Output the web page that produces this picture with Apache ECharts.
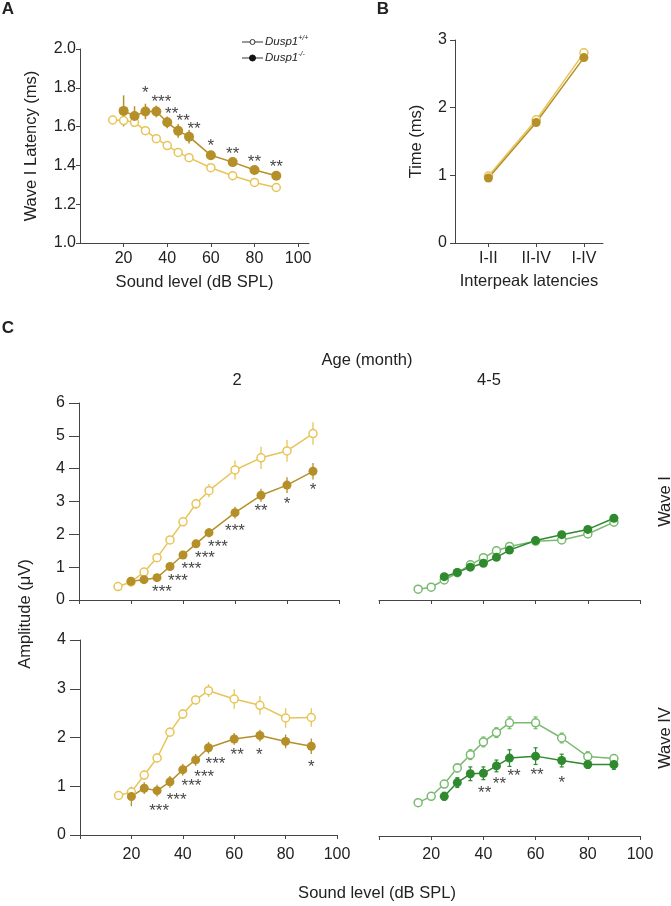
<!DOCTYPE html>
<html>
<head>
<meta charset="utf-8">
<script src="https://cdn.jsdelivr.net/npm/echarts@6/dist/echarts.min.js"></script>
<style>
html,body{margin:0;padding:0;background:#fff;}
#c{width:671px;height:906px;}
</style>
</head>
<body>
<div id="c"></div>
<script>
// ---------------- DATA ----------------
// Panel A: Wave I latency (ms)
const xA_wt = [15, 20, 25, 30, 35, 40, 45, 50, 60, 70, 80, 90];
const yA_wt = [1.634, 1.631, 1.622, 1.579, 1.538, 1.502, 1.467, 1.440, 1.388, 1.347, 1.312, 1.286];
const eA_wt = [0.01, 0.015, 0.015, 0.012, 0.01, 0.01, 0.01, 0.01, 0.01, 0.01, 0.01, 0.01];
const xA_ko = [20, 25, 30, 35, 40, 45, 50, 60, 70, 80, 90];
const yA_ko = [1.681, 1.655, 1.678, 1.678, 1.622, 1.578, 1.548, 1.452, 1.417, 1.376, 1.347];
const eA_ko = [0.08, 0.05, 0.04, 0.03, 0.03, 0.035, 0.035, 0.02, 0.02, 0.02, 0.02];
const sA_ko = ['', '', '*', '***', '**', '**', '**', '*', '**', '**', '**'];

// Panel B: interpeak latencies
const catB = ['I-II', 'II-IV', 'I-IV'];
const yB_wt = [0.99, 1.82, 2.81];
const eB_wt = [0.03, 0.04, 0.05];
const yB_ko = [0.96, 1.78, 2.74];
const eB_ko = [0.03, 0.04, 0.04];

// Panel C: amplitude (uV)
const xC_wt = [15, 20, 25, 30, 35, 40, 45, 50, 60, 70, 80, 90];
const xC_ko2 = [20, 25, 30, 35, 40, 45, 50, 60, 70, 80, 90];
const xC_ko45 = [25, 30, 35, 40, 45, 50, 60, 70, 80, 90];
// Wave I, 2 months
const yC1_wt = [0.41, 0.55, 0.85, 1.29, 1.83, 2.38, 2.93, 3.33, 3.96, 4.33, 4.54, 5.07];
const eC1_wt = [0.03, 0.05, 0.08, 0.1, 0.1, 0.12, 0.15, 0.2, 0.29, 0.34, 0.33, 0.34];
const yC1_ko = [0.57, 0.62, 0.68, 1.02, 1.37, 1.71, 2.05, 2.66, 3.19, 3.50, 3.92];
const eC1_ko = [0.08, 0.08, 0.08, 0.1, 0.1, 0.12, 0.14, 0.18, 0.2, 0.24, 0.25];
const sC1_ko = ['', '', '***', '***', '***', '***', '***', '***', '**', '*', '*'];
// Wave I, 4-5 months
const yC2_wt = [0.33, 0.39, 0.61, 0.83, 1.07, 1.29, 1.50, 1.63, 1.79, 1.83, 2.01, 2.37];
const eC2_wt = [0.03, 0.03, 0.05, 0.05, 0.06, 0.06, 0.06, 0.06, 0.07, 0.07, 0.07, 0.08];
const yC2_ko = [0.71, 0.84, 1.00, 1.12, 1.30, 1.52, 1.81, 1.99, 2.15, 2.49];
const eC2_ko = [0.07, 0.05, 0.05, 0.06, 0.06, 0.06, 0.08, 0.07, 0.08, 0.1];
// Wave IV, 2 months
const yC3_wt = [0.81, 0.88, 1.23, 1.58, 2.11, 2.48, 2.77, 2.96, 2.79, 2.66, 2.40, 2.41];
const eC3_wt = [0.04, 0.1, 0.1, 0.1, 0.1, 0.1, 0.1, 0.13, 0.2, 0.19, 0.2, 0.19];
const yC3_ko = [0.79, 0.96, 0.91, 1.09, 1.34, 1.54, 1.79, 1.97, 2.04, 1.92, 1.82];
const eC3_ko = [0.2, 0.12, 0.12, 0.12, 0.12, 0.12, 0.12, 0.12, 0.12, 0.14, 0.16];
const sC3_ko = ['', '', '***', '***', '***', '***', '***', '**', '*', '', '*'];
// Wave IV, 4-5 months
const yC4_wt = [0.68, 0.81, 1.06, 1.39, 1.66, 1.92, 2.11, 2.31, 2.31, 2.00, 1.62, 1.58];
const eC4_wt = [0.05, 0.05, 0.07, 0.08, 0.1, 0.1, 0.1, 0.12, 0.12, 0.1, 0.1, 0.08];
const yC4_ko = [0.81, 1.09, 1.27, 1.28, 1.43, 1.59, 1.63, 1.54, 1.46, 1.46];
const eC4_ko = [0.08, 0.1, 0.14, 0.13, 0.12, 0.17, 0.17, 0.13, 0.08, 0.1];
const sC4_ko = ['', '', '', '**', '**', '**', '**', '*', '', ''];

// ---------------- LAYOUT / STYLE ----------------
const starOffA  = [[0,0],[0,0],[0,-22],[5,-13],[4.5,-12],[5,-12.6],[5,-11],[0,-12.6],[0,-11.5],[0,-11],[0,-11.4]];
const starOffC1 = [[0,0],[0,0],[5,11],[8,11],[8.5,10.7],[9,11],[9,11],[0,15],[0,13],[0,16],[0,16]];
const starOffC3 = [[0,0],[0,0],[2,17],[6.7,15],[8.7,13],[8.6,13.5],[7,13.4],[3,13],[-0.7,16.6],[0,0],[0,18]];
const starOffC4 = [[0,0],[0,0],[0,0],[1.3,17],[3,15],[4.5,15],[1.4,16],[0,19],[0,0],[0,0]];

const FONT = "'Liberation Sans', Arial, Helvetica, sans-serif";
const TXT = '#222';
const AX = '#444';
const GOLD_D = '#b58f28';
const GOLD_L = '#e8c458';
const GREEN_D = '#2f8a2f';
const GREEN_L = '#78bb6e';
const LBL = 16;
const NAME = 16.5;
const STAR = 17;

const chart = echarts.init(document.getElementById('c'), null, {renderer: 'canvas'});

const grids = [
  {left: 80, top: 49, width: 229, height: 194},   // A
  {left: 455, top: 40, width: 148, height: 203},  // B
  {left: 79, top: 403, width: 260, height: 197},  // C1
  {left: 379, top: 403, width: 261, height: 197}, // C2
  {left: 80, top: 640, width: 257, height: 195},  // C3
  {left: 379, top: 640, width: 261, height: 196}  // C4
].map(g => Object.assign({outerBoundsMode: 'none', containLabel: false}, g));

function axLine(show) { return {show: show, lineStyle: {color: AX, width: 1}}; }
const lblStyle = {color: TXT, fontSize: LBL, fontFamily: FONT};
const nameStyle = {color: TXT, fontSize: NAME, fontFamily: FONT};

const xAxes = [
  { gridIndex: 0, type: 'value', min: 0, max: 105, axisLine: axLine(true),
    axisTick: {show: true, length: 4, lineStyle: {color: AX}, customValues: [20,40,60,80,100]},
    axisLabel: Object.assign({margin: 8, customValues: [20,40,60,80,100]}, lblStyle),
    splitLine: {show: false}, name: 'Sound level (dB SPL)', nameLocation: 'middle', nameGap: 31, nameTextStyle: nameStyle },
  { gridIndex: 1, type: 'value', min: 0.3, max: 3.4, axisLine: axLine(true),
    axisTick: {show: true, length: 4, lineStyle: {color: AX}, customValues: [1,2,3]},
    axisLabel: Object.assign({margin: 8, customValues: [1,2,3], formatter: v => catB[Math.round(v) - 1] || ''}, lblStyle),
    splitLine: {show: false}, name: 'Interpeak latencies', nameLocation: 'middle', nameGap: 30, nameTextStyle: nameStyle },
  { gridIndex: 2, type: 'value', min: 0, max: 100, interval: 20, axisLine: axLine(true),
    axisTick: {show: true, length: 4, lineStyle: {color: AX}}, axisLabel: {show: false}, splitLine: {show: false} },
  { gridIndex: 3, type: 'value', min: 0, max: 100, interval: 20, axisLine: axLine(true),
    axisTick: {show: true, length: 4, lineStyle: {color: AX}}, axisLabel: {show: false}, splitLine: {show: false} },
  { gridIndex: 4, type: 'value', min: 0, max: 100, interval: 20, axisLine: axLine(true),
    axisTick: {show: true, length: 4, lineStyle: {color: AX}},
    axisLabel: Object.assign({margin: 12, formatter: v => v === 0 ? '' : String(v)}, lblStyle), splitLine: {show: false} },
  { gridIndex: 5, type: 'value', min: 0, max: 100, interval: 20, axisLine: axLine(true),
    axisTick: {show: true, length: 4, lineStyle: {color: AX}},
    axisLabel: Object.assign({margin: 11, formatter: v => v === 0 ? '' : String(v)}, lblStyle), splitLine: {show: false} }
];

const yAxes = [
  { gridIndex: 0, type: 'value', min: 1, max: 2, interval: 0.2, axisLine: axLine(true),
    axisTick: {show: true, length: 4, lineStyle: {color: AX}},
    axisLabel: Object.assign({margin: 4, formatter: v => v.toFixed(1)}, lblStyle), splitLine: {show: false},
    name: 'Wave I Latency (ms)', nameLocation: 'middle', nameGap: 40, nameTextStyle: nameStyle },
  { gridIndex: 1, type: 'value', min: 0, max: 3, interval: 1, axisLine: axLine(true),
    axisTick: {show: true, length: 5, lineStyle: {color: AX}},
    axisLabel: Object.assign({margin: 8}, lblStyle), splitLine: {show: false},
    name: 'Time (ms)', nameLocation: 'middle', nameGap: 30, nameTextStyle: nameStyle },
  { gridIndex: 2, type: 'value', min: 0, max: 6, interval: 1, axisLine: axLine(true),
    axisTick: {show: true, length: 10, lineStyle: {color: AX}},
    axisLabel: Object.assign({margin: 14}, lblStyle), splitLine: {show: false} },
  { gridIndex: 3, type: 'value', min: 0, max: 6, interval: 1, position: 'right', axisLine: {show: false},
    axisTick: {show: false}, axisLabel: {show: false}, splitLine: {show: false},
    name: 'Wave I', nameLocation: 'middle', nameRotate: 90, nameGap: 17, nameTextStyle: nameStyle },
  { gridIndex: 4, type: 'value', min: 0, max: 4, interval: 1, axisLine: axLine(true),
    axisTick: {show: true, length: 10, lineStyle: {color: AX}},
    axisLabel: Object.assign({margin: 14}, lblStyle), splitLine: {show: false} },
  { gridIndex: 5, type: 'value', min: 0, max: 4, interval: 1, position: 'right', axisLine: {show: false},
    axisTick: {show: false}, axisLabel: {show: false}, splitLine: {show: false},
    name: 'Wave IV', nameLocation: 'middle', nameRotate: 90, nameGap: 17, nameTextStyle: nameStyle }
];

const series = [];

function errSeries(idx, xs, ys, es, color, cap, lw) {
  series.push({
    type: 'custom', xAxisIndex: idx, yAxisIndex: idx, z: 2, silent: true,
    data: xs.map((x, i) => [x, ys[i], es[i]]),
    encode: {x: 0, y: 1},
    renderItem: function (params, api) {
      const x = api.value(0), y = api.value(1), e = api.value(2);
      const hi = api.coord([x, y + e]);
      const lo = api.coord([x, y - e]);
      const st = {stroke: color, lineWidth: lw};
      const ch = [{type: 'line', shape: {x1: hi[0], y1: hi[1], x2: lo[0], y2: lo[1]}, style: st}];
      if (cap > 0) {
        ch.push({type: 'line', shape: {x1: hi[0] - cap, y1: hi[1], x2: hi[0] + cap, y2: hi[1]}, style: st});
        ch.push({type: 'line', shape: {x1: lo[0] - cap, y1: lo[1], x2: lo[0] + cap, y2: lo[1]}, style: st});
      }
      return {type: 'group', children: ch};
    }
  });
}

function lineSeries(idx, xs, ys, color, open, size, lw) {
  series.push({
    type: 'line', xAxisIndex: idx, yAxisIndex: idx, z: 3,
    data: xs.map((x, i) => [x, ys[i]]),
    symbol: 'circle', symbolSize: size, showSymbol: true,
    lineStyle: {color: color, width: lw},
    itemStyle: open ? {color: '#fff', borderColor: color, borderWidth: 1.5} : {color: color, borderColor: color, borderWidth: 0},
    emphasis: {disabled: true}, animation: false
  });
}

function starSeries(idx, xs, ys, stars, offs) {
  const data = [];
  xs.forEach((x, i) => {
    if (stars[i]) {
      data.push({value: [x, ys[i]], label: {show: true, formatter: stars[i], offset: [offs[i][0], offs[i][1] + 3.5]}});
    }
  });
  series.push({
    type: 'scatter', xAxisIndex: idx, yAxisIndex: idx, z: 5, silent: true,
    symbol: 'circle', symbolSize: 1, itemStyle: {color: 'rgba(0,0,0,0)'},
    label: {show: true, position: 'inside', color: '#111', fontSize: STAR, fontFamily: FONT},
    data: data, animation: false
  });
}

// Panel A
errSeries(0, xA_wt, yA_wt, eA_wt, GOLD_L, 0, 1.5);
lineSeries(0, xA_wt, yA_wt, GOLD_L, true, 8, 1.5);
errSeries(0, xA_ko, yA_ko, eA_ko, GOLD_D, 0, 1.5);
lineSeries(0, xA_ko, yA_ko, GOLD_D, false, 10, 1.5);
starSeries(0, xA_ko, yA_ko, sA_ko, starOffA);

// Panel B
const xB = catB.map((c, i) => i + 1);
errSeries(1, xB, yB_wt, eB_wt, GOLD_L, 3, 1.2);
lineSeries(1, xB, yB_wt, GOLD_L, true, 8, 1.5);
errSeries(1, xB, yB_ko, eB_ko, GOLD_D, 3, 1.2);
lineSeries(1, xB, yB_ko, GOLD_D, false, 9, 1.5);

// Panel C
errSeries(2, xC_wt, yC1_wt, eC1_wt, GOLD_L, 0, 1.3);
lineSeries(2, xC_wt, yC1_wt, GOLD_L, true, 8, 1.5);
errSeries(2, xC_ko2, yC1_ko, eC1_ko, GOLD_D, 0, 1.3);
lineSeries(2, xC_ko2, yC1_ko, GOLD_D, false, 9, 1.5);
starSeries(2, xC_ko2, yC1_ko, sC1_ko, starOffC1);

errSeries(3, xC_wt, yC2_wt, eC2_wt, GREEN_L, 2, 1.2);
lineSeries(3, xC_wt, yC2_wt, GREEN_L, true, 8, 1.5);
errSeries(3, xC_ko45, yC2_ko, eC2_ko, GREEN_D, 2, 1.2);
lineSeries(3, xC_ko45, yC2_ko, GREEN_D, false, 9, 1.5);

errSeries(4, xC_wt, yC3_wt, eC3_wt, GOLD_L, 0, 1.3);
lineSeries(4, xC_wt, yC3_wt, GOLD_L, true, 8, 1.5);
errSeries(4, xC_ko2, yC3_ko, eC3_ko, GOLD_D, 0, 1.3);
lineSeries(4, xC_ko2, yC3_ko, GOLD_D, false, 9, 1.5);
starSeries(4, xC_ko2, yC3_ko, sC3_ko, starOffC3);

errSeries(5, xC_wt, yC4_wt, eC4_wt, GREEN_L, 2, 1.2);
lineSeries(5, xC_wt, yC4_wt, GREEN_L, true, 8, 1.5);
errSeries(5, xC_ko45, yC4_ko, eC4_ko, GREEN_D, 2, 1.2);
lineSeries(5, xC_ko45, yC4_ko, GREEN_D, false, 9, 1.5);
starSeries(5, xC_ko45, yC4_ko, sC4_ko, starOffC4);

function txt(x, y, text, size, opts) {
  return Object.assign({
    type: 'text', x: x, y: y, silent: true,
    style: Object.assign({text: text, fill: TXT, font: (opts && opts.bold ? 'bold ' : '') + size + 'px ' + FONT,
      align: 'center', verticalAlign: 'middle'}, (opts && opts.style) || {})
  }, (opts && opts.el) || {});
}

const legendRich = {
  a: {fontSize: 11.5, fontStyle: 'italic', fontFamily: FONT, fill: TXT, color: TXT, lineHeight: 14},
  b: {fontSize: 7, fontStyle: 'italic', fontFamily: FONT, fill: TXT, color: TXT, lineHeight: 7, verticalAlign: 'top'}
};

const graphics = [
  txt(8, 9, 'A', 17, {bold: true}),
  txt(383, 9, 'B', 17, {bold: true}),
  txt(8, 328, 'C', 17, {bold: true}),
  txt(367, 360, 'Age (month)', NAME),
  txt(237, 380, '2', NAME),
  txt(489, 380, '4-5', NAME),
  txt(377, 893, 'Sound level (dB SPL)', NAME),
  {type: 'text', x: 25, y: 614, rotation: Math.PI / 2, silent: true,
   style: {text: 'Amplitude (\u03bcV)', fill: TXT, font: NAME + 'px ' + FONT, align: 'center', verticalAlign: 'middle'}},
  // legend
  {type: 'line', shape: {x1: 242, y1: 42, x2: 263, y2: 42}, style: {stroke: '#333', lineWidth: 1}, silent: true},
  {type: 'circle', shape: {cx: 252.5, cy: 42, r: 2.5}, style: {fill: '#fff', stroke: '#333', lineWidth: 1}, silent: true},
  {type: 'text', x: 265, y: 42, silent: true,
   style: {text: '{a|Dusp1}{b|+/+}', rich: legendRich, align: 'left', verticalAlign: 'middle'}},
  {type: 'line', shape: {x1: 242, y1: 58, x2: 263, y2: 58}, style: {stroke: '#333', lineWidth: 1}, silent: true},
  {type: 'circle', shape: {cx: 252.5, cy: 58, r: 3}, style: {fill: '#111', stroke: '#111', lineWidth: 1}, silent: true},
  {type: 'text', x: 265, y: 58, silent: true,
   style: {text: '{a|Dusp1}{b|-/-}', rich: legendRich, align: 'left', verticalAlign: 'middle'}}
];

chart.setOption({
  animation: false,
  backgroundColor: '#ffffff',
  textStyle: {fontFamily: FONT},
  grid: grids,
  xAxis: xAxes,
  yAxis: yAxes,
  series: series,
  graphic: graphics
});
</script>
</body>
</html>
